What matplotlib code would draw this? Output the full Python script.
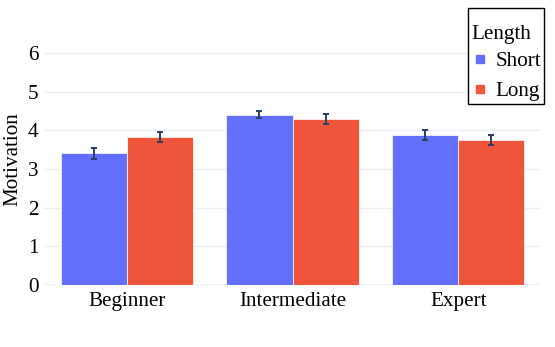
import matplotlib.pyplot as plt
from matplotlib.lines import Line2D
from matplotlib.offsetbox import DrawingArea
import numpy as np

# data
levels = ["Beginner", "Intermediate", "Expert"]
short_mean = [3.41, 4.40, 3.88]
short_err = [0.14, 0.09, 0.12]
long_mean = [3.82, 4.29, 3.75]
long_err = [0.13, 0.12, 0.13]
yticks = [0, 1, 2, 3, 4, 5, 6]

plt.rcParams['font.family'] = ['Liberation Serif', 'DejaVu Serif']
fs = 15.2

W, H = 555, 347
fig = plt.figure(figsize=(W / 100, H / 100), dpi=100)
ax = fig.add_axes([44.2 / W, (H - 285) / H, (541 - 44.2) / W, (285 - 33.6) / H])

x = np.arange(len(levels))
bw = 0.4
err_kw = dict(ecolor='#2a3f5f', elinewidth=1.4, capsize=2.3, capthick=1.4)
ax.bar(x - bw / 2, short_mean, bw, yerr=short_err, color='#636EFA',
       edgecolor='white', linewidth=0.5, error_kw=err_kw, zorder=2)
ax.bar(x + bw / 2, long_mean, bw, yerr=long_err, color='#EF553B',
       edgecolor='white', linewidth=0.5, error_kw=err_kw, zorder=2)

ax.set_xlim(-0.5, 2.5)
ax.set_ylim(0, 6.5)
ax.set_xticks(x)
ax.set_xticklabels(levels, fontsize=fs)
ax.set_yticks(yticks)
ax.set_yticklabels([str(t) for t in yticks], fontsize=fs)
ax.tick_params(axis='y', length=0, pad=4)
ax.tick_params(axis='x', length=0, pad=5)
ax.grid(axis='y', color='#EBF0F8', linewidth=1, zorder=0)
ax.axhline(0, color='#EBF0F8', linewidth=2, zorder=1)
for s in ax.spines.values():
    s.set_visible(False)
ax.set_ylabel("Motivation", fontsize=fs, labelpad=4)

handles = [Line2D([], [], marker='s', linestyle='none', markersize=6,
                  color='#636EFA', label='Short'),
           Line2D([], [], marker='s', linestyle='none', markersize=6,
                  color='#EF553B', label='Long')]
leg = fig.legend(handles=handles, title="Length", loc='upper right',
                 bbox_to_anchor=(544.3 / W, 1 - 8.3 / H), fontsize=fs,
                 title_fontsize=fs, frameon=True, fancybox=False,
                 edgecolor='black', framealpha=1, borderaxespad=0,
                 handlelength=0.85, handletextpad=0.3, borderpad=0.15,
                 labelspacing=0.48)
leg.get_frame().set_linewidth(1)
leg._legend_box.align = "left"
# extra space above the title, gap title -> first entry
leg._legend_box.sep = 5
leg._legend_box._children.insert(0, DrawingArea(1, 5))

fig.savefig("out.png", dpi=100)
